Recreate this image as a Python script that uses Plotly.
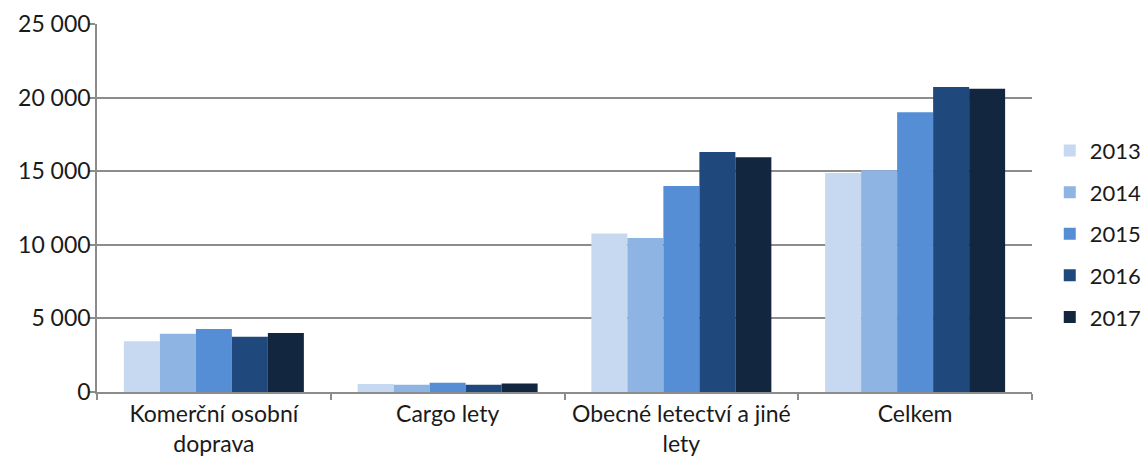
import plotly.graph_objects as go

categories = ["Komerční osobní<br>doprava", "Cargo lety", "Obecné letectví a jiné<br>lety", "Celkem"]
years = ["2013", "2014", "2015", "2016", "2017"]
values = {
    "2013": [3450, 545, 10760, 14870],
    "2014": [3960, 500, 10470, 15070],
    "2015": [4280, 630, 13990, 19000],
    "2016": [3760, 500, 16310, 20720],
    "2017": [4010, 585, 15950, 20600],
}
colors = ["#C6D9F1", "#8EB4E3", "#558ED5", "#1F497D", "#12263F"]
y_ticks = [0, 5000, 10000, 15000, 20000, 25000]

FONT = "Lato, 'Noto Sans', sans-serif"
TEXT = "#1a1a1a"
GRID = "#8c8c8c"

fig = go.Figure()
for year, color in zip(years, colors):
    fig.add_trace(go.Bar(
        x=categories,
        y=values[year],
        name=year,
        legendgroup=year,
        marker=dict(color=color, line=dict(width=0)),
    ))

fig.update_layout(
    width=1145,
    height=459,
    margin=dict(l=97, r=113, t=24, b=67, autoexpand=False),
    paper_bgcolor="white",
    plot_bgcolor="white",
    barmode="group",
    bargap=0.23,
    bargroupgap=0,
    separators=", ",
    font=dict(family=FONT, size=23, color=TEXT),
    legend=dict(
        x=1.019, xanchor="left",
        y=0.43, yanchor="middle",
        font=dict(family=FONT, size=22, color=TEXT),
        tracegroupgap=10,
        itemwidth=30,
    ),
    xaxis=dict(
        showline=True, linecolor=GRID, linewidth=1.5,
        ticks="outside", ticklen=6, tickcolor=GRID, tickwidth=1.5,
        tickson="boundaries",
        ticklabelstandoff=1,
        showgrid=False,
        tickfont=dict(family=FONT, size=23, color=TEXT),
    ),
    yaxis=dict(
        range=[0, 25000],
        tickvals=y_ticks,
        tickformat=",d",
        showline=True, linecolor=GRID, linewidth=1.5,
        ticks="outside", ticklen=6, tickcolor=GRID, tickwidth=1.5,
        ticklabelstandoff=-6,
        showgrid=True, gridcolor=GRID, gridwidth=1.5,
        zeroline=False,
        tickfont=dict(family=FONT, size=23, color=TEXT),
    ),
)

fig.write_html("out.html")
